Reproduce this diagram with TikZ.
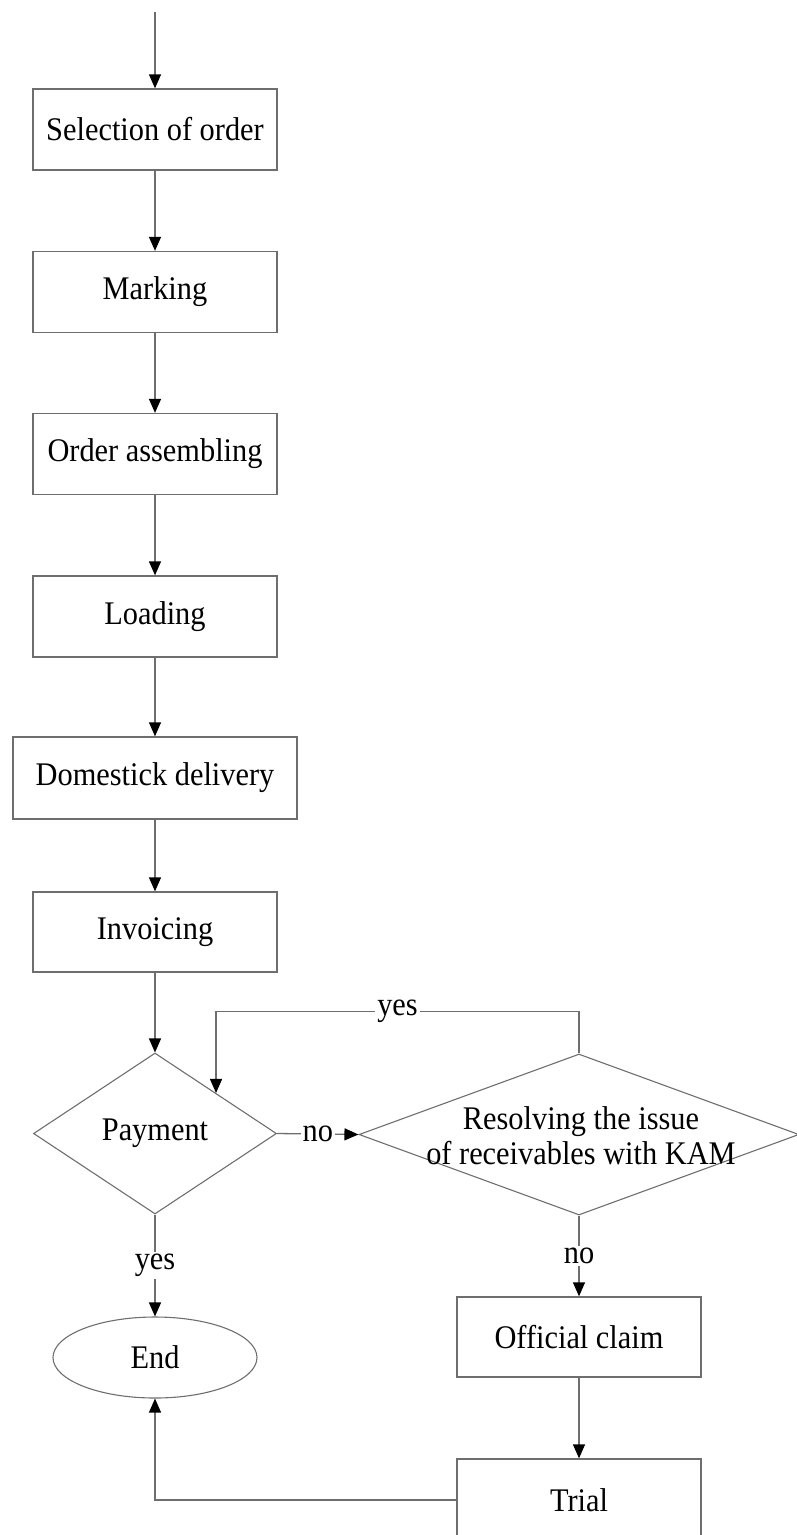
\documentclass[tikz,border=0pt]{standalone}
\usepackage{fontspec}
\setmainfont{Liberation Serif}[FakeStretch=0.92]
\usetikzlibrary{shapes.geometric,arrows.meta,calc}

\definecolor{edge}{RGB}{110,110,110}

\begin{document}
\begin{tikzpicture}[x=1pt,y=-1pt,
  every node/.style={font=\fontsize{33}{35}\selectfont, text=black},
  stepbox/.style={rectangle, draw=edge, line width=1.3pt, inner sep=0pt,
    minimum width=244pt, minimum height=81pt},
  choice/.style={diamond, draw=edge, line width=1.1pt, inner sep=0pt,
    minimum width=243pt, minimum height=161pt},
  terminal/.style={ellipse, draw=edge, line width=1.1pt, inner sep=0pt,
    minimum width=204pt, minimum height=81pt},
  flow/.style={draw=edge, line width=1.3pt,
    -{Triangle[length=14pt,width=12pt,color=black]}},
  lbl/.style={fill=white, inner sep=2pt}]

\useasboundingbox (0,0) rectangle (797,1535);

% main column of process steps
\coordinate (start) at (155,12);
\node[stepbox] (sel)  at (155,129.5) {Selection of order};
\node[stepbox] (mark) at (155,292)   {Marking};
\node[stepbox] (asm)  at (155,454)   {Order assembling};
\node[stepbox] (load) at (155,616.5) {Loading};
\node[stepbox, minimum width=284pt, minimum height=82pt] (deliv) at (155,778) {Domestick delivery};
\node[stepbox, minimum height=80pt] (inv) at (155,932) {Invoicing};

% decisions
\node[choice] (pay) at (155,1133.5) {Payment};
\node[choice, minimum width=440pt] (res) at (579,1134.5) {};
\node[align=center, inner sep=0pt] (restext) at (581,1136)
  {Resolving the issue\\of receivables with KAM};

% end and the claim branch
\node[terminal] (end) at (155,1357.5) {End};
\node[stepbox, minimum height=80pt] (claim) at (579,1337) {Official claim};
\node[stepbox, minimum height=82pt] (trial) at (579,1500) {Trial};

\coordinate (payne) at ($(pay.north)!.5!(pay.east)$);

% connectors
\draw[flow] (start) -- (sel);
\draw[flow] (sel) -- (mark);
\draw[flow] (mark) -- (asm);
\draw[flow] (asm) -- (load);
\draw[flow] (load) -- (deliv);
\draw[flow] (deliv) -- (inv);
\draw[flow] (inv) -- (pay);

\draw[flow] (pay.east) -- node[lbl] {no} (res.west);
\draw[flow] (res.north) -- ++(0,-42) -| node[lbl, pos=0.25] {yes} (payne);
\draw[flow] (pay.south) -- node[lbl] {yes} (end.north);
\draw[flow] (res.south) -- node[lbl] {no} (claim.north);
\draw[flow] (claim) -- (trial);
\draw[flow] (trial.west) -| (end.south);

\end{tikzpicture}
\end{document}
